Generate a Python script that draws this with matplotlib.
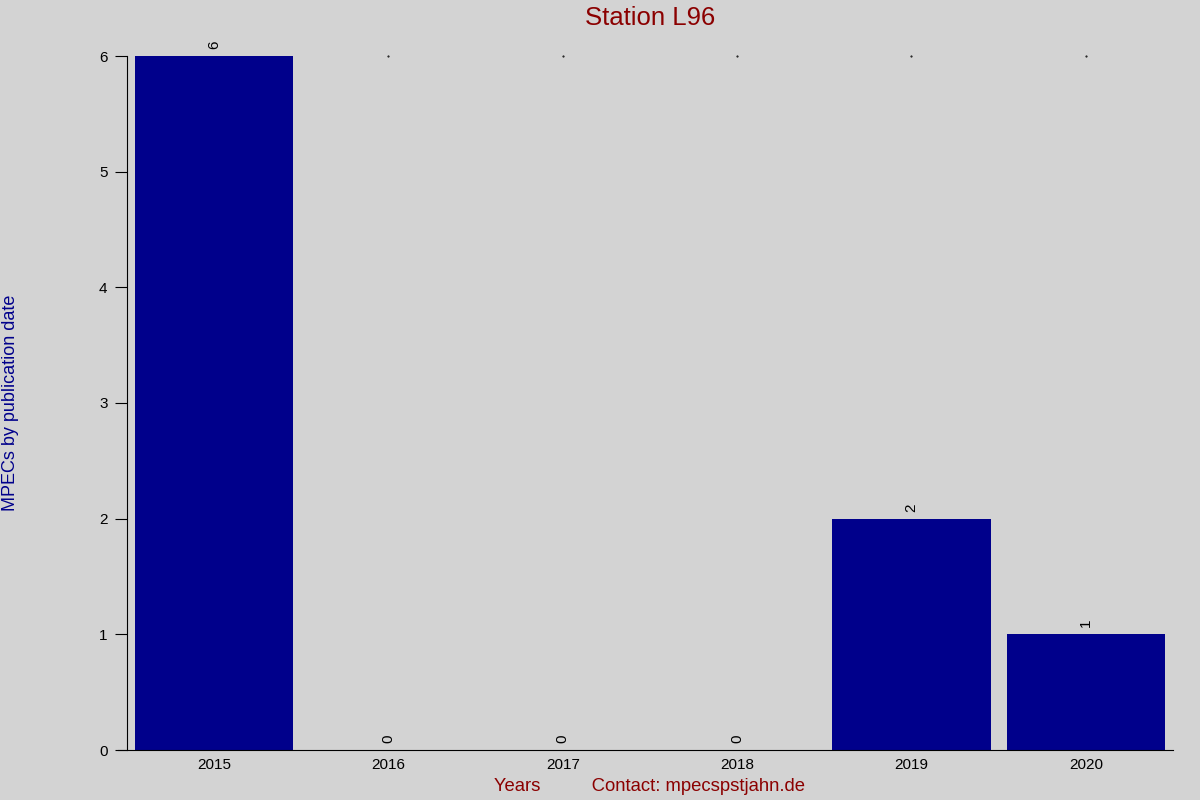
import matplotlib
matplotlib.use("Agg")
import matplotlib.pyplot as plt

plt.rcParams['font.family'] = ['Liberation Sans', 'DejaVu Sans']

years = ['2015', '2016', '2017', '2018', '2019', '2020']
counts = [6, 0, 0, 0, 2, 1]

bg = '#d3d3d3'
fig = plt.figure(figsize=(12, 8), dpi=100, facecolor=bg)
ax = fig.add_axes([0.1058, 0.0625, 0.8717, 0.8675], facecolor=bg)

x = range(len(years))
bars = ax.bar(x, counts, width=0.91, color='#00008b')
for xi, v in zip(x, counts):
    ax.text(xi, v + 0.06, str(v), rotation=90, ha='center', va='bottom', fontsize=11)

ax.set_xlim(-0.5, len(years) - 0.5)
ax.set_ylim(0, 6)
ax.set_xticks(list(x))
ax.set_xticklabels(years, fontsize=11)
ax.tick_params(axis='x', length=0, pad=6)
ax.tick_params(axis='y', labelsize=11, length=9, direction='out', pad=5)
# tiny marks along the top at each year
for xi, v in zip(x, counts):
    if v < 6:
        ax.plot(xi, 6, marker='.', markersize=1, color='black', clip_on=False)

ax.spines['top'].set_visible(False)
ax.spines['right'].set_visible(False)
ax.spines['bottom'].set_bounds(-0.55, len(years) - 0.5)

ax.set_title('Station L96', color='#8b0000', fontsize=18.5, pad=22)
ax.set_xlabel('Years          Contact: mpecspstjahn.de', color='#8b0000', fontsize=13.3, labelpad=4)
fig.text(0.009, 0.496, 'MPECs by publication date', color='#00008b', fontsize=13,
         rotation=90, ha='center', va='center')

fig.savefig('out.png', dpi=100, facecolor=bg)
